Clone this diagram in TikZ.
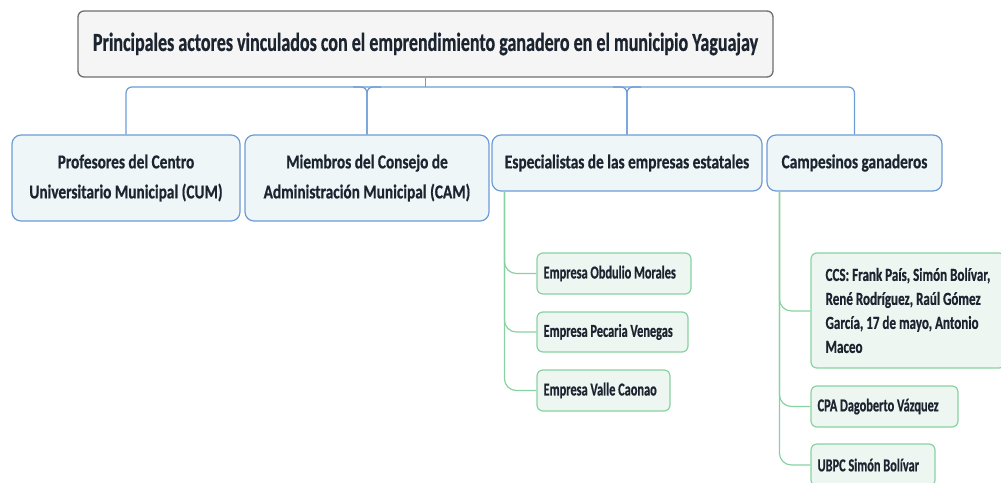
\documentclass[tikz,border=0pt]{standalone}
\usepackage{fontspec}
\setmainfont{Carlito}[FakeStretch=0.73,BoldFeatures={FakeBold=0.6}]
\newfontfamily\rootf{Carlito}[FakeStretch=0.693,BoldFeatures={FakeBold=0.6}]
\newfontfamily\lvlf{Carlito}[FakeStretch=0.777,BoldFeatures={FakeBold=0.6}]
\newfontfamily\leaff{Carlito}[FakeStretch=0.677,BoldFeatures={FakeBold=0.6}]
\newfontfamily\ccsf{Carlito}[FakeStretch=0.71,BoldFeatures={FakeBold=0.6}]
\usetikzlibrary{calc}
\definecolor{txt}{HTML}{1C2430}
\definecolor{rootfill}{HTML}{F5F5F5}
\definecolor{rootdraw}{HTML}{6E6E6E}
\definecolor{bluedraw}{HTML}{6C9BD6}
\definecolor{bluefill}{HTML}{EEF6F7}
\definecolor{greendraw}{HTML}{88D2A2}
\definecolor{greenfill}{HTML}{EEF6F2}
\tikzset{
  rootbox/.style={draw=rootdraw, fill=rootfill, line width=1.3pt, rounded corners=6pt, inner sep=0pt, text=txt, font=\rootf\fontsize{26}{30}\selectfont\bfseries},
  lvlbox/.style={draw=bluedraw, fill=bluefill, line width=1.2pt, rounded corners=9pt, inner sep=0pt, text=txt, align=center, font=\lvlf\fontsize{19.7}{30}\selectfont\bfseries},
  leafbox/.style={draw=greendraw, fill=greenfill, line width=1.2pt, rounded corners=6pt, inner sep=0pt},
  leaftext/.style={anchor=west, inner sep=0pt, text=txt, align=left, font=\leaff\fontsize{18.2}{24}\selectfont\bfseries},
  blueline/.style={draw=bluedraw, line width=1.2pt},
  greenline/.style={draw=greendraw, line width=1.2pt, rounded corners=12pt},
}
\begin{document}
\begin{tikzpicture}[x=1pt,y=-1pt]
\useasboundingbox (0,0) rectangle (1001,482);
\clip (0,0) rectangle (1001,482);
% root
\node[rootbox, minimum width=695pt, minimum height=66pt] (root) at (425.5,44) {Principales actores vinculados con el emprendimiento ganadero en el municipio Yaguajay};
% level 1
\node[lvlbox, minimum width=228pt, minimum height=86pt] (b1) at (126,178) {Profesores del Centro\\Universitario Municipal (CUM)};
\node[lvlbox, minimum width=244pt, minimum height=86pt] (b2) at (367,178) {Miembros del Consejo de\\Administración Municipal (CAM)};
\node[lvlbox, minimum width=270pt, minimum height=56pt] (b3) at (627,163) {Especialistas de las empresas estatales};
\node[lvlbox, minimum width=175pt, minimum height=56pt] (b4) at (854.5,163) {Campesinos ganaderos};
% leaves
\node[leafbox, minimum width=154pt, minimum height=41pt] (e1) at (614,273.5) {};
\node[leaftext] (e1t) at ($(e1.west)+(7,0)$) {Empresa Obdulio Morales};
\node[leafbox, minimum width=151pt, minimum height=40pt] (e2) at (612.5,332) {};
\node[leaftext] (e2t) at ($(e2.west)+(7,0)$) {Empresa Pecaria Venegas};
\node[leafbox, minimum width=133pt, minimum height=41pt] (e3) at (603.5,390.5) {};
\node[leaftext] (e3t) at ($(e3.west)+(7,0)$) {Empresa Valle Caonao};
\node[leafbox, minimum width=194pt, minimum height=115pt] (c1) at (908,310.5) {};
\node[leaftext, font=\ccsf\fontsize{18.4}{24}\selectfont\bfseries] (c1t) at ($(c1.west)+(15,0)$) {CCS: Frank País, Simón Bolívar,\\René Rodríguez, Raúl Gómez\\García, 17 de mayo, Antonio\\Maceo};
\node[leafbox, minimum width=147pt, minimum height=41pt] (c2) at (884.5,406.5) {};
\node[leaftext] (c2t) at ($(c2.west)+(7,0)$) {CPA Dagoberto Vázquez};
\node[leafbox, minimum width=124pt, minimum height=42pt] (c3) at (873,465) {};
\node[leaftext] (c3t) at ($(c3.west)+(7,0)$) {UBPC Simón Bolívar};
% blue connectors
\coordinate (hy) at (0,87);
\draw[blueline] (root.south) -- (root.south |- hy);
\draw[blueline, rounded corners=6pt] (b1.north) -- (b1.north |- hy) -- (b4.north |- hy) -- (b4.north);
\draw[blueline, rounded corners=6pt] ($(b2.north |- hy)+(-14,0)$) -| (b2.north);
\draw[blueline, rounded corners=6pt] ($(b2.north |- hy)+(14,0)$) -| (b2.north);
\draw[blueline, rounded corners=6pt] ($(b3.north |- hy)+(-14,0)$) -| (b3.north);
\draw[blueline, rounded corners=6pt] ($(b3.north |- hy)+(14,0)$) -| (b3.north);
% green connectors
\coordinate (g3) at ($(b3.south west)+(13,0)$);
\coordinate (g4) at ($(b4.south west)+(13,0)$);
\foreach \n in {e1,e2,e3} \draw[greenline] (g3) |- (\n.west);
\draw[greenline] (g4) |- ($(c1.west)+(0,0.5)$);
\foreach \n in {c2,c3} \draw[greenline] (g4) |- (\n.west);
\end{tikzpicture}
\end{document}
